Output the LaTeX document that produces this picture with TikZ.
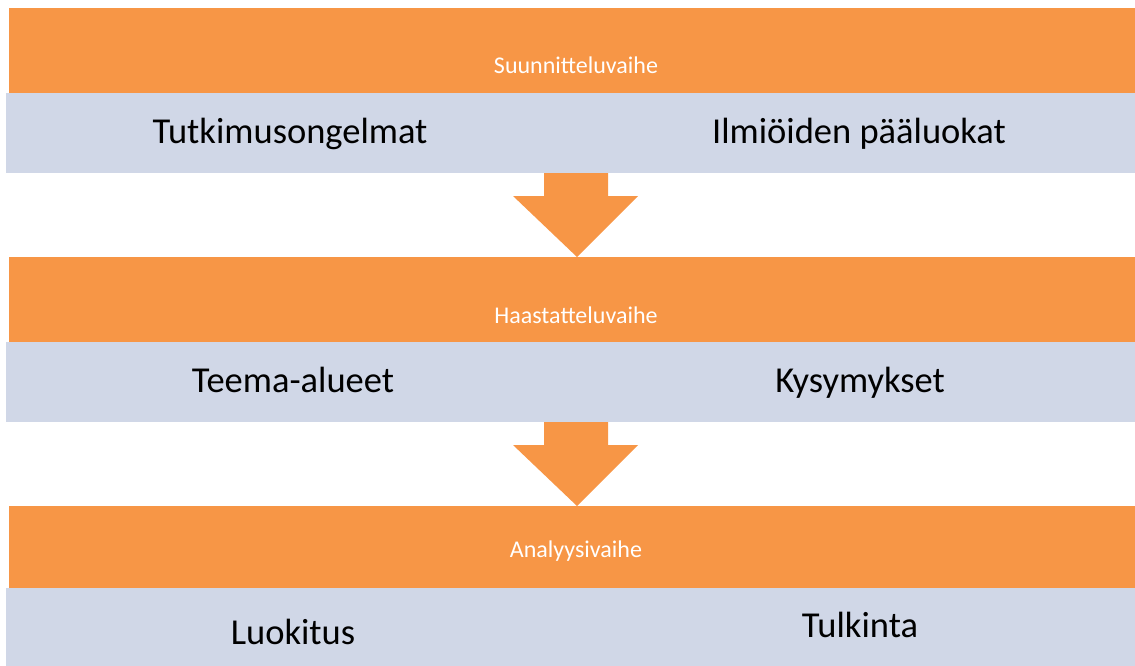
\documentclass[tikz,border=0pt]{standalone}
\usepackage{fontspec}
\setmainfont{Carlito}
\definecolor{band}{HTML}{F79646}
\definecolor{sub}{HTML}{D0D7E7}
\begin{document}
\begin{tikzpicture}[x=1pt,y=-1pt,
  phase/.style={fill=band,draw=none},
  subband/.style={fill=sub,draw=none},
  phaselabel/.style={anchor=base,text=white,font=\fontsize{24}{28}\selectfont,inner sep=0pt},
  item/.style={anchor=base,text=black,font=\fontsize{36.5}{42}\selectfont,inner sep=0pt},
  downarrow/.style={fill=band,draw=none}]
\useasboundingbox (0,0) rectangle (1135,666);
% phase 1
\fill[phase] (9,8) rectangle (1135,93);
\fill[subband] (6,93) rectangle (1135,173);
\node[phaselabel] (p1) at (576,74) {Suunnitteluvaihe};
\node[item] (a1) at (290,144) {Tutkimusongelmat};
\node[item] (b1) at (859,143) {Ilmiöiden pääluokat};
% arrow 1
\fill[downarrow] (544,173) -- (608,173) -- (608,196) -- (638,196) -- (577,257) -- (513,196) -- (544,196) -- cycle;
% phase 2
\fill[phase] (9,257) rectangle (1135,342);
\fill[subband] (6,342) rectangle (1135,422);
\node[phaselabel] (p2) at (576,323) {Haastatteluvaihe};
\node[item] (a2) at (293,392) {Teema-alueet};
\node[item] (b2) at (860,392) {Kysymykset};
% arrow 2
\fill[downarrow] (544,422) -- (608,422) -- (608,445) -- (638,445) -- (577,506) -- (513,445) -- (544,445) -- cycle;
% phase 3
\fill[phase] (9,506) rectangle (1135,588);
\fill[subband] (6,588) rectangle (1135,666);
\node[phaselabel] (p3) at (576,557) {Analyysivaihe};
\node[item] (a3) at (293,644) {Luokitus};
\node[item] (b3) at (860,637) {Tulkinta};
\end{tikzpicture}
\end{document}
